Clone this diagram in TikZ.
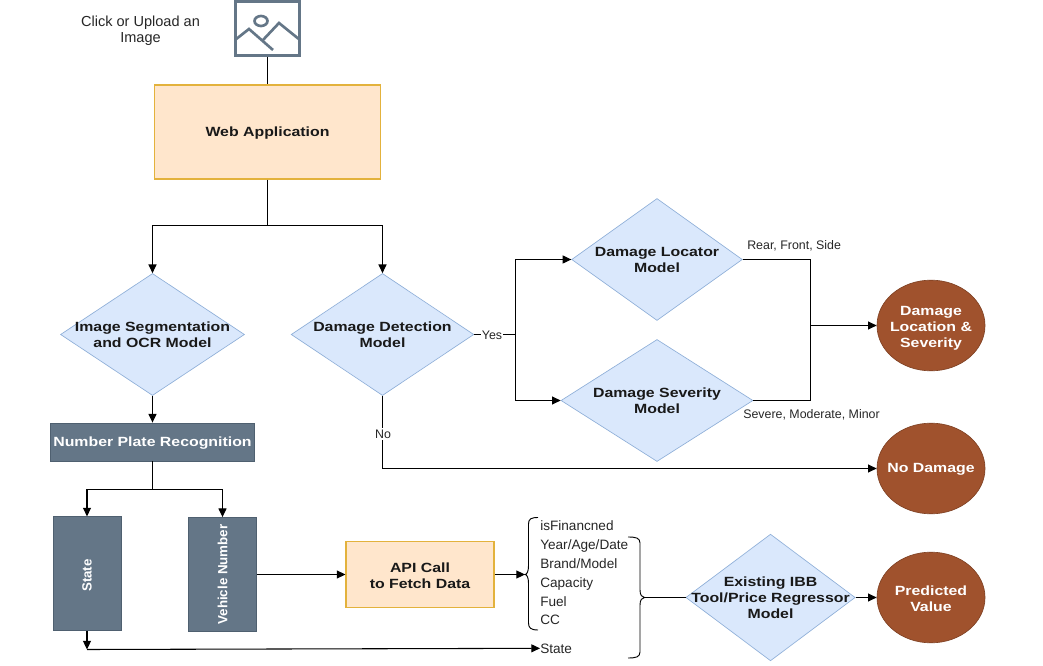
\documentclass[tikz,border=0pt]{standalone}
\usepackage{fontspec}
\setmainfont{Liberation Sans}
\newfontfamily\stretchbold[FakeStretch=1.19]{Liberation Sans Bold}
\newfontfamily\plainbold{Liberation Sans Bold}
\usetikzlibrary{shapes.geometric,arrows.meta}
\definecolor{dblue}{HTML}{DAE8FC}
\definecolor{dblueline}{HTML}{8FAFD8}
\definecolor{orangefill}{HTML}{FFE6CC}
\definecolor{orangeline}{HTML}{E3B23C}
\definecolor{slate}{HTML}{647687}
\definecolor{slateline}{HTML}{4F6070}
\definecolor{rust}{HTML}{A0522D}
\definecolor{txt}{HTML}{262626}
\tikzset{
  conn/.style={draw=black,line width=.8pt},
  arr/.style={conn,-{Triangle[length=6.5pt,width=6pt]}},
  boldtxt/.style={font=\stretchbold\fontsize{10}{12}\selectfont,align=center,text=black!90,inner sep=0pt,yshift=-.8pt},
  diatxt/.style={boldtxt,yshift=.8pt},
  plain/.style={font=\fontsize{9.3}{11}\selectfont,text=txt,inner sep=0pt},
  plainb/.style={font=\fontsize{10.2}{12}\selectfont,text=txt,inner sep=0pt},
  dia/.style={diamond,draw=dblueline,fill=dblue,line width=.5pt,inner sep=0pt,shape aspect=1.5},
  obox/.style={rectangle,draw=orangeline,fill=orangefill,line width=.8pt,inner sep=0pt},
  sbox/.style={rectangle,draw=slateline,fill=slate,line width=.6pt,inner sep=0pt},
  whitetxt/.style={boldtxt,text=white},
  vtxt/.style={font=\plainbold\fontsize{10}{12}\selectfont,text=white,inner sep=0pt,rotate=90},
  oval/.style={ellipse,fill=rust,draw=rust!80!black,line width=.5pt,inner sep=0pt,minimum width=81pt,minimum height=68pt},
  lbl/.style={plain,fill=white,inner sep=1pt}
}
\begin{document}
\begin{tikzpicture}[x=.75pt,y=-.75pt]
\useasboundingbox (0,0) rectangle (1043,666);
% icon
\node[rectangle,draw=slate,line width=2.3pt,minimum width=48pt,minimum height=40pt,inner sep=0pt] (icon) at (267.5,28.5) {};
\draw[slate,line width=2pt] (261,21) ellipse [x radius=6.5,y radius=5];
\draw[slate,line width=2pt] (235,40) -- (249,29) -- (273,50);
\draw[slate,line width=2pt] (263,40) -- (279,23) -- (300,40);
\node[inner sep=0pt,align=center,text=txt,font=\fontsize{10.9}{12}\selectfont] (click) at (140.5,30.5) {Click or Upload an\\Image};
% boxes
\node[obox,minimum width=170pt,minimum height=70.5pt,label={[boldtxt]center:Web Application}] (web) at (267.5,132) {};
\node[dia,minimum width=138pt,minimum height=91.5pt,label={[diatxt]center:Image Segmentation\\and OCR Model}] (seg) at (152.5,334.5) {};
\node[dia,minimum width=137pt,minimum height=91.5pt,label={[diatxt]center:Damage Detection\\Model}] (det) at (382.5,334.5) {};
\node[dia,minimum width=128pt,minimum height=91.5pt,label={[diatxt]center:Damage Locator\\Model}] (loc) at (657,259.5) {};
\node[dia,minimum width=144pt,minimum height=91.5pt,label={[diatxt]center:Damage Severity\\Model}] (sev) at (657,400.5) {};
\node[dia,minimum width=127pt,minimum height=95pt,label={[diatxt]center:Existing IBB\\Tool/Price Regressor\\Model}] (ibb) at (770.5,597.5) {};
\node[sbox,minimum width=153pt,minimum height=28.5pt,label={[whitetxt]center:Number Plate Recognition}] (np) at (152.5,442) {};
\node[sbox,minimum width=51pt,minimum height=85pt,label={[yshift=-1.5pt,vtxt]center:State}] (state) at (87,573.5) {};
\node[sbox,minimum width=51pt,minimum height=85.5pt,label={[vtxt]center:Vehicle Number}] (veh) at (222.5,574.5) {};
\node[obox,minimum width=111pt,minimum height=49.5pt,label={[boldtxt]center:API Call\\to Fetch Data}] (api) at (420,574.5) {};
\node[oval,label={[whitetxt,yshift=-1pt]center:Damage\\Location \&\\Severity}] (dl) at (931,325.5) {};
\node[oval,label={[whitetxt]center:No Damage}] (nd) at (931,468.5) {};
\node[oval,label={[whitetxt]center:Predicted\\Value}] (pv) at (931,597.5) {};
% plain labels
\node[plain,anchor=base west] (rfs) at (747,250) {Rear, Front, Side};
\node[plain,anchor=base west] (smm) at (743,419) {Severe, Moderate, Minor};
\node[plainb,anchor=base west] (f1) at (540,530.5) {isFinancned};
\node[plainb,anchor=base west] (f2) at (540,549.5) {Year/Age/Date};
\node[plainb,anchor=base west] (f3) at (540,568.5) {Brand/Model};
\node[plainb,anchor=base west] (f4) at (540,587) {Capacity};
\node[plainb,anchor=base west] (f5) at (540,606) {Fuel};
\node[plainb,anchor=base west] (f6) at (540,624.5) {CC};
\node[plainb,anchor=base west] (st) at (540,653) {State};
% braces
\coordinate (ltip) at (525,574.5);
\coordinate (rtip) at (644.5,597.5);
\draw[conn,line width=.7pt] (538,517.5) .. controls (531,517.5) and (528.5,519) .. (528.5,524) -- (528.5,566) .. controls (528.5,571) and (527,574.5) .. (ltip) .. controls (527,574.5) and (528.5,578) .. (528.5,583) -- (528.5,623) .. controls (528.5,628) and (531,630) .. (538,630);
\draw[conn,line width=.7pt] (628,537) .. controls (636,537) and (640,538) .. (640,543) -- (640,590) .. controls (640,595) and (642,597.5) .. (rtip) .. controls (642,597.5) and (640,600) .. (640,605) -- (640,652) .. controls (640,657) and (636,658) .. (628,658);
% connectors
\coordinate (fork1) at (267.5,225.5);
\coordinate (fork2) at (152.5,489.5);
\coordinate (yes) at (515.5,334.5);
\coordinate (merge) at (810.5,325.5);
\coordinate (bend) at (87,649.5);
\draw[conn] (icon.south) -- (web.north);
\draw[conn] (web.south) -- (fork1);
\draw[arr] (fork1) -| (seg.north);
\draw[arr] (fork1) -| (det.north);
\draw[arr] (seg.south) -- (np.north);
\draw[conn] (np.south) -- (fork2);
\draw[arr] (fork2) -| (state.north);
\draw[arr] (fork2) -| (veh.north);
\draw[arr] (veh.east) -- (api.west);
\draw[arr] (api.east) -- (ltip);
\draw[arr] (state.south) -- (bend);
\draw[arr] (bend) -- (st.west);
\draw[conn] (det.east) -- (yes);
\draw[arr] (yes) |- (loc.west);
\draw[arr] (yes) |- (sev.west);
\node[lbl] (yeslab) at (492,335) {Yes};
\draw[conn] (loc.east) -| (merge);
\draw[conn] (sev.east) -| (merge);
\draw[arr] (merge) -- (dl.west);
\draw[arr] (det.south) |- (nd.west);
\node[lbl] (nolab) at (383,434) {No};
\draw[conn] (rtip) -- (ibb.west);
\draw[arr] (ibb.east) -- (pv.west);
\end{tikzpicture}
\end{document}
